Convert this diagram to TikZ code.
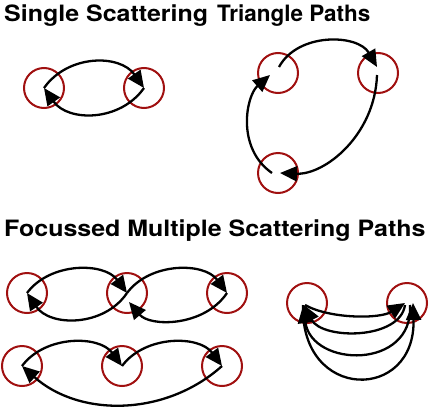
\documentclass[tikz,border=0pt]{standalone}
\usepackage{fontspec}
\setmainfont{TeX Gyre Heros}
\usetikzlibrary{arrows.meta}
\definecolor{scatred}{RGB}{160,16,16}

\begin{document}
\begin{tikzpicture}[x=1pt,y=-1pt,
  site/.style={draw=scatred,line width=2pt,circle,minimum size=40pt,inner sep=0pt},
  arr/.style={-{Triangle[length=17pt,width=15pt]},line width=2.3pt},
  ttl/.style={anchor=base west,inner sep=0pt,xscale=1.11,transform shape,font=\fontsize{22.5}{26}\selectfont\bfseries}
]
\useasboundingbox (0,0) rectangle (430,407);
\node[ttl] (single) at (4,21) {Single Scattering};
\node[ttl,xscale=0.9] (tri) at (217,21) {Triangle Paths};
\node[ttl] (focus) at (4,236) {Focussed Multiple Scattering Paths};

\node[site] (s1) at (44,88) {};
\node[site] (s2) at (144,88) {};
\draw[arr] (s1.center) .. controls (68,54) and (120,54) .. (s2.center);
\draw[arr] (s2.center) .. controls (120,122) and (68,122) .. (s1.center);

\node[site] (tp1) at (278,73) {};
\node[site] (tp2) at (378,73) {};
\node[site] (tp3) at (278,173) {};
\draw[arr] ([shift={(1,-6)}]tp1.center) .. controls (298,32) and (358,34) .. ([shift={(-1,-6)}]tp2.center);
\draw[arr] ([shift={(-1,2)}]tp2.center) .. controls (375,135) and (325,175) .. ([shift={(2,0)}]tp3.center);
\draw[arr] ([shift={(-6,0)}]tp3.center) .. controls (236,148) and (246,96) .. ([shift={(-8,2)}]tp1.center);

\node[site] (f1) at (27,293) {};
\node[site] (f2) at (127,293) {};
\node[site] (f3) at (227,293) {};
\draw[arr] (f1.center) .. controls (50,262) and (104,262) .. (f2.center);
\draw[arr] (f2.center) .. controls (150,262) and (204,262) .. (f3.center);
\draw[arr] (f3.center) .. controls (204,327) and (150,327) .. ([shift={(2,9)}]f2.center);
\draw[arr] (f2.center) .. controls (104,327) and (50,327) .. (f1.center);

\node[site] (g1) at (22,366) {};
\node[site] (g2) at (122,366) {};
\node[site] (g3) at (222,366) {};
\draw[arr] (g1.center) .. controls (45,335) and (99,335) .. (g2.center);
\draw[arr] (g2.center) .. controls (145,335) and (199,335) .. (g3.center);
\draw[arr] (g3.center) .. controls (165,417) and (79,417) .. (g1.center);

\node[site] (h1) at (307,303) {};
\node[site] (h2) at (407,303) {};
\draw[arr] ([shift={(-2,2)}]h1.center) .. controls (330,319) and (380,319) .. ([shift={(-2,0)}]h2.center);
\draw[arr] ([shift={(-2,2)}]h2.center) .. controls (400,340) and (322,340) .. ([shift={(-3,2)}]h1.center);
\draw[arr] ([shift={(3,2)}]h2.center) .. controls (414,370) and (312,368) .. ([shift={(-4,3)}]h1.center);
\draw[arr] ([shift={(-4,2)}]h1.center) .. controls (300,402) and (416,402) .. ([shift={(6,0)}]h2.center);
\end{tikzpicture}
\end{document}
